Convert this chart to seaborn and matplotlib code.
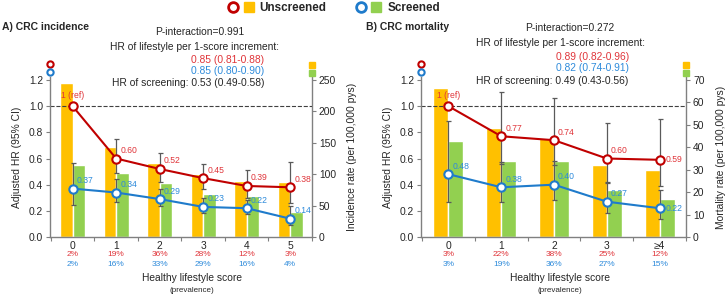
import numpy as np
import pandas as pd
import matplotlib
matplotlib.use("Agg")
import matplotlib.pyplot as plt
import matplotlib.transforms as mtransforms
from matplotlib.lines import Line2D
from matplotlib.legend_handler import HandlerTuple
import seaborn as sns

sns.set_theme(style="white")
plt.rcParams["font.family"] = ["Liberation Sans", "DejaVu Sans"]

# ---------------------------------------------------------------
# Data
# ---------------------------------------------------------------
scores_a = ["0", "1", "2", "3", "4", "5"]
prev_unscr_a = ["2%", "19%", "36%", "28%", "12%", "3%"]
prev_scr_a = ["2%", "16%", "33%", "29%", "16%", "4%"]
rate_unscr_a = [246, 143, 118, 100, 89, 88]
rate_scr_a = [115, 102, 86, 68, 66, 40]
hr_unscr_a = [1.0, 0.60, 0.52, 0.45, 0.39, 0.38]
hr_unscr_a_lo = [np.nan, 0.49, 0.42, 0.365, 0.30, 0.26]
hr_unscr_a_hi = [np.nan, 0.75, 0.645, 0.56, 0.51, 0.57]
hr_scr_a = [0.37, 0.34, 0.29, 0.23, 0.22, 0.14]
hr_scr_a_lo = [0.245, 0.27, 0.235, 0.18, 0.175, 0.09]
hr_scr_a_hi = [0.565, 0.44, 0.37, 0.295, 0.285, 0.235]

scores_b = ["0", "1", "2", "3", "≥4"]
prev_unscr_b = ["3%", "22%", "38%", "25%", "12%"]
prev_scr_b = ["3%", "19%", "36%", "27%", "15%"]
rate_unscr_b = [66.5, 48.5, 44, 32, 30]
rate_scr_b = [43, 34, 34, 21, 17]
hr_unscr_b = [1.0, 0.77, 0.74, 0.60, 0.59]
hr_unscr_b_lo = [np.nan, 0.56, 0.55, 0.42, 0.39]
hr_unscr_b_hi = [np.nan, 1.11, 1.06, 0.87, 0.90]
hr_scr_b = [0.48, 0.38, 0.40, 0.27, 0.22]
hr_scr_b_lo = [0.265, 0.265, 0.28, 0.18, 0.14]
hr_scr_b_hi = [0.885, 0.575, 0.58, 0.41, 0.36]

groups = ["Unscreened", "Screened"]

YELLOW = "#FFC000"
GREEN = "#92D050"
RED = "#C00000"
RED_TXT = "#E0353A"
BLUE = "#1F7BCB"
BLUE_TXT = "#2E8BDB"
GRAY = "#808080"
EBAR = "#5A5A5A"

W, H = 726, 295


def fy(px):
    return 1 - px / H


def fx(px):
    return px / W


# ---------------------------------------------------------------
# One panel
# ---------------------------------------------------------------
def draw_panel(ax, scores, rate_u, rate_s, hr_u, lo_u, hi_u, hr_s, lo_s, hi_s,
               prev_u, prev_s, rate_max, rate_step, rate_label, last_side=False):
    n = len(scores)
    x = np.arange(n)
    ytop = 1.22

    ax2 = ax.twinx()
    df = pd.DataFrame({
        "score": scores * 2,
        "group": [groups[0]] * n + [groups[1]] * n,
        "rate": list(rate_u) + list(rate_s),
    })
    sns.barplot(data=df, x="score", y="rate", hue="group", order=scores,
                hue_order=groups, palette=[YELLOW, GREEN], width=0.57, gap=0,
                saturation=1, errorbar=None, legend=False, ax=ax2)
    ax2.set_ylim(0, ytop * rate_max / 1.2)
    ax2.set_yticks(np.arange(0, rate_max + 1, rate_step))
    ax2.set_ylabel(rate_label, fontsize=7.4, labelpad=8)
    ax2.tick_params(axis="y", labelsize=7.4, length=3, width=0.8, color=GRAY,
                    pad=2, right=True)
    for s in ["left", "top", "bottom"]:
        ax2.spines[s].set_visible(False)
    ax2.spines["right"].set_color(GRAY)
    ax2.spines["right"].set_linewidth(1.0)

    # HR axis on top of the bars
    ax.set_zorder(ax2.get_zorder() + 1)
    ax.patch.set_visible(False)
    ax.axhline(1.0, color="#404040", ls="--", lw=0.8, zorder=1)

    for hr, lo, hi, col, tcol in [(hr_u, lo_u, hi_u, RED, RED_TXT),
                                  (hr_s, lo_s, hi_s, BLUE, BLUE_TXT)]:
        hr = np.asarray(hr)
        lo = np.asarray(lo)
        hi = np.asarray(hi)
        ok = ~np.isnan(lo)
        ax.errorbar(x[ok], hr[ok], yerr=[hr[ok] - lo[ok], hi[ok] - hr[ok]],
                    fmt="none", ecolor=EBAR, elinewidth=0.9, capsize=1.8,
                    capthick=0.9, zorder=2)
        sns.lineplot(x=x, y=hr, ax=ax, color=col, lw=1.5, marker="o",
                     markersize=6, markerfacecolor="white", markeredgecolor=col,
                     markeredgewidth=1.5, zorder=3)
        for i, v in enumerate(hr):
            if v == 1.0:
                ax.annotate("1 (ref)", (i, v), xytext=(0, 11),
                            textcoords="offset pixels", ha="center",
                            va="center", fontsize=6.2, color=tcol)
                continue
            dx, dy = (6, 0) if (last_side and i == n - 1) else (4, 8)
            ax.annotate(f"{v:.2f}", (i, v), xytext=(dx, dy),
                        textcoords="offset pixels", ha="left", va="center",
                        fontsize=6.2, color=tcol)

    ax.set_xlim(-0.52, n - 0.5)
    ax.set_ylim(0, ytop)
    ax.set_yticks(np.arange(0, 1.21, 0.2))
    ax.set_yticklabels([f"{v:.1f}" for v in np.arange(0, 1.21, 0.2)])
    ax.set_ylabel("Adjusted HR (95% CI)", fontsize=7.4, labelpad=5)
    ax.set_xticks(x)
    ax.set_xticklabels(scores)
    ax.set_xticks(np.arange(-0.5, n, 1.0), minor=True)
    ax.set_xlabel("")
    ax.tick_params(axis="x", which="major", length=0, labelsize=7.4, pad=3)
    ax.tick_params(axis="x", which="minor", length=3, width=0.8, color=GRAY,
                   bottom=True)
    ax.tick_params(axis="y", labelsize=7.4, length=3, width=0.8, color=GRAY,
                   pad=2, left=True)
    for s in ["top", "right"]:
        ax.spines[s].set_visible(False)
    for s in ["left", "bottom"]:
        ax.spines[s].set_color(GRAY)
        ax.spines[s].set_linewidth(1.0)
    ax.grid(False)

    # prevalence rows under the score labels
    tr = mtransforms.blended_transform_factory(ax.transData, ax.figure.transFigure)
    for i in range(n):
        ax.text(i, fy(255), prev_u[i], transform=tr, ha="center", va="center",
                fontsize=6.0, color=RED_TXT)
        ax.text(i, fy(265), prev_s[i], transform=tr, ha="center", va="center",
                fontsize=6.0, color=BLUE_TXT)

    # small series keys above the axes
    ax.plot([0], [1.082], transform=ax.transAxes, clip_on=False, marker="o",
            ms=4.5, mfc="white", mec=RED, mew=1.5, ls="none")
    ax.plot([0], [1.036], transform=ax.transAxes, clip_on=False, marker="o",
            ms=4.5, mfc="white", mec=BLUE, mew=1.5, ls="none")
    ax.plot([1], [1.078], transform=ax.transAxes, clip_on=False, marker="s",
            ms=4, color=YELLOW, ls="none")
    ax.plot([1], [1.030], transform=ax.transAxes, clip_on=False, marker="s",
            ms=4, color=GREEN, ls="none")
    return ax2


fig = plt.figure(figsize=(W / 100, H / 100), dpi=100)
ax_a = fig.add_axes([fx(50), fy(237), fx(312 - 50), (237 - 77.4) / H])
ax_b = fig.add_axes([fx(421), fy(237), fx(686 - 421), (237 - 77.4) / H])

draw_panel(ax_a, scores_a, rate_unscr_a, rate_scr_a,
           hr_unscr_a, hr_unscr_a_lo, hr_unscr_a_hi,
           hr_scr_a, hr_scr_a_lo, hr_scr_a_hi,
           prev_unscr_a, prev_scr_a, 250, 50,
           "Incidence rate (per 100,000 pys)")
draw_panel(ax_b, scores_b, rate_unscr_b, rate_scr_b,
           hr_unscr_b, hr_unscr_b_lo, hr_unscr_b_hi,
           hr_scr_b, hr_scr_b_lo, hr_scr_b_hi,
           prev_unscr_b, prev_scr_b, 70, 10,
           "Mortality rate (per 100,000 pys)", last_side=True)

# titles and annotations
fig.text(fx(2), fy(27), "A) CRC incidence", fontsize=7.5, fontweight="bold",
         ha="left", va="center")
fig.text(fx(366), fy(27.3), "B) CRC mortality", fontsize=7.5, fontweight="bold",
         ha="left", va="center")

fs = 7.4
fig.text(fx(200), fy(32.3), "P-interaction=0.991", fontsize=fs, ha="center", va="center")
fig.text(fx(195), fy(46.7), "HR of lifestyle per 1-score increment:", fontsize=fs,
         ha="center", va="center")
fig.text(fx(264), fy(60), "0.85 (0.81-0.88)", fontsize=fs, ha="right", va="center",
         color=RED_TXT)
fig.text(fx(264), fy(71), "0.85 (0.80-0.90)", fontsize=fs, ha="right", va="center",
         color=BLUE_TXT)
fig.text(fx(264), fy(83.3), "HR of screening: 0.53 (0.49-0.58)", fontsize=fs,
         ha="right", va="center")

fig.text(fx(570), fy(28.3), "P-interaction=0.272", fontsize=fs, ha="center", va="center")
fig.text(fx(560.5), fy(42.7), "HR of lifestyle per 1-score increment:", fontsize=fs,
         ha="center", va="center")
fig.text(fx(629), fy(56.7), "0.89 (0.82-0.96)", fontsize=fs, ha="right", va="center",
         color=RED_TXT)
fig.text(fx(629), fy(68.3), "0.82 (0.74-0.91)", fontsize=fs, ha="right", va="center",
         color=BLUE_TXT)
fig.text(fx(628), fy(81), "HR of screening: 0.49 (0.43-0.56)", fontsize=fs,
         ha="right", va="center")

# x axis titles
for cx in (191.7, 559.7):
    fig.text(fx(cx), fy(278), "Healthy lifestyle score", fontsize=7.4,
             ha="center", va="center")
    fig.text(fx(cx), fy(290), "(prevalence)", fontsize=5.8, ha="center",
             va="center")

# top legend
c_red = Line2D([], [], marker="o", ls="none", ms=7, mfc="white", mec=RED, mew=2)
s_yel = Line2D([], [], marker="s", ls="none", ms=7, color=YELLOW)
c_blu = Line2D([], [], marker="o", ls="none", ms=7, mfc="white", mec=BLUE, mew=2)
s_grn = Line2D([], [], marker="s", ls="none", ms=7, color=GREEN)
fig.legend(handles=[(c_red, s_yel), (c_blu, s_grn)], labels=groups,
           handler_map={tuple: HandlerTuple(ndivide=None, pad=0.5)},
           loc="upper center", bbox_to_anchor=(0.46, 1.01), ncol=2,
           frameon=False, prop={"weight": "bold", "size": 8.4},
           handlelength=2.2, handletextpad=0.5, columnspacing=2.5,
           borderaxespad=0)

fig.savefig("out.png", dpi=100)
